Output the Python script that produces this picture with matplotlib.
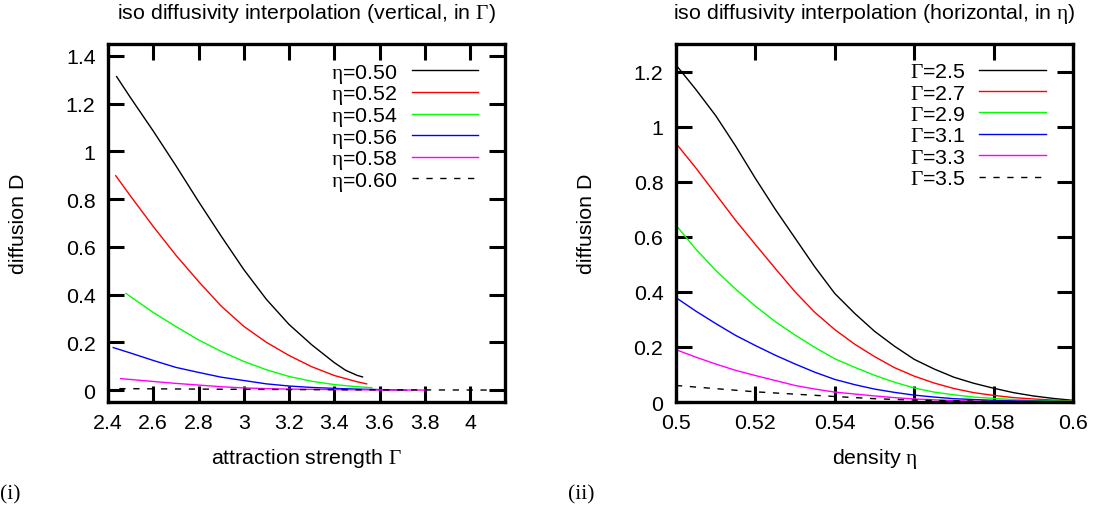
import numpy as np
import matplotlib
matplotlib.use("Agg")
import matplotlib.pyplot as plt

plt.rcParams['font.family'] = ['Liberation Sans', 'DejaVu Sans']
plt.rcParams['mathtext.fontset'] = 'custom'
plt.rcParams['mathtext.rm'] = 'Liberation Serif'
plt.rcParams['mathtext.it'] = 'Liberation Serif'
plt.rcParams['mathtext.bf'] = 'Liberation Serif:bold'

# (i) D vs attraction strength Gamma, one curve per density eta
eta_labels = ['0.50', '0.52', '0.54', '0.56', '0.58', '0.60']
g_050 = [2.438, 2.5, 2.6, 2.7, 2.8, 2.9, 3.0, 3.1, 3.2, 3.3, 3.4, 3.45, 3.5, 3.525]
d_050 = [1.313, 1.224, 1.085, 0.94, 0.79, 0.645, 0.505, 0.38, 0.275, 0.19, 0.115,
         0.083, 0.062, 0.055]
g_052 = [2.434, 2.5, 2.6, 2.7, 2.8, 2.9, 3.0, 3.1, 3.2, 3.3, 3.4, 3.5, 3.543]
d_052 = [0.898, 0.812, 0.685, 0.565, 0.455, 0.352, 0.267, 0.200, 0.145, 0.098, 0.061,
         0.035, 0.026]
g_054 = [2.479, 2.6, 2.7, 2.8, 2.9, 3.0, 3.1, 3.2, 3.3, 3.4, 3.5, 3.566]
d_054 = [0.405, 0.325, 0.266, 0.210, 0.162, 0.120, 0.085, 0.057, 0.037, 0.023, 0.014,
         0.010]
g_056 = [2.423, 2.5, 2.6, 2.7, 2.8, 2.9, 3.0, 3.1, 3.2, 3.3, 3.4, 3.5, 3.6, 3.72]
d_056 = [0.178, 0.155, 0.124, 0.095, 0.074, 0.054, 0.040, 0.026, 0.017, 0.011, 0.007,
         0.004, 0.002, 0.0]
g_058 = [2.456, 2.6, 2.7, 2.8, 2.9, 3.0, 3.1, 3.2, 3.4, 3.6, 3.81]
d_058 = [0.048, 0.036, 0.028, 0.021, 0.014, 0.009, 0.006, 0.004, 0.002, 0.0005, 0.0]
g_060 = [2.45, 3.00, 3.50, 4.155]
d_060 = [0.006, 0.003, 0.001, 0.0]

# (ii) D vs density eta, one curve per Gamma
gam_labels = ['2.5', '2.7', '2.9', '3.1', '3.3', '3.5']
eta = [0.50, 0.505, 0.51, 0.515, 0.52, 0.525, 0.53, 0.535, 0.54, 0.545, 0.55,
       0.555, 0.56, 0.565, 0.57, 0.575, 0.58, 0.585, 0.59, 0.595, 0.60]
d_25 = [1.224, 1.135, 1.04, 0.93, 0.812, 0.70, 0.595, 0.49, 0.394, 0.322, 0.257,
        0.203, 0.155, 0.12, 0.09, 0.068, 0.05, 0.034, 0.022, 0.013, 0.006]
d_27 = [0.939, 0.85, 0.755, 0.66, 0.572, 0.485, 0.40, 0.325, 0.263, 0.21, 0.165,
        0.125, 0.094, 0.069, 0.049, 0.034, 0.024, 0.016, 0.011, 0.007, 0.004]
d_29 = [0.642, 0.555, 0.478, 0.41, 0.348, 0.292, 0.243, 0.198, 0.157, 0.126, 0.097,
        0.072, 0.051, 0.036, 0.026, 0.018, 0.013, 0.009, 0.006, 0.004, 0.003]
d_31 = [0.379, 0.33, 0.285, 0.242, 0.205, 0.17, 0.138, 0.108, 0.082, 0.063, 0.047,
        0.035, 0.025, 0.018, 0.012, 0.009, 0.006, 0.004, 0.003, 0.002, 0.001]
d_33 = [0.19, 0.163, 0.138, 0.115, 0.096, 0.078, 0.060, 0.047, 0.036, 0.029, 0.022,
        0.016, 0.011, 0.008, 0.005, 0.003, 0.002, 0.0015, 0.001, 0.0005, 0.0]
e_35 = [0.50, 0.52, 0.54, 0.55, 0.56, 0.58, 0.60]
d_35 = [0.060, 0.037, 0.020, 0.012, 0.007, 0.002, 0.0]

colors = ['black', '#ff0000', '#00ff00', '#0000ff', '#ff00ff', 'black']
FS = 15.4
DASH = (0, (4.5, 5.5))

fig = plt.figure(figsize=(10.97, 5.10), dpi=100)
ax1 = fig.add_axes([0.0985, 0.2098, 0.3619, 0.702])
ax2 = fig.add_axes([0.6162, 0.2098, 0.3619, 0.702])


def style(ax):
    for s in ax.spines.values():
        s.set_linewidth(2.4)
    ax.tick_params(direction='in', length=11.5, width=2.2, top=True, right=True,
                   labelsize=FS, pad=8)
    ax.tick_params(axis='y', pad=9)


curves1 = [(g_050, d_050), (g_052, d_052), (g_054, d_054),
           (g_056, d_056), (g_058, d_058), (g_060, d_060)]
for (x, y), c, lab in zip(curves1, colors, eta_labels):
    ls = DASH if lab == '0.60' else '-'
    ax1.plot(x, y, color=c, lw=1.0, ls=ls, label=r'$\eta$=' + lab)

curves2 = [(eta, d_25), (eta, d_27), (eta, d_29),
           (eta, d_31), (eta, d_33), (e_35, d_35)]
for (x, y), c, lab in zip(curves2, colors, gam_labels):
    ls = DASH if lab == '3.5' else '-'
    ax2.plot(x, y, color=c, lw=1.0, ls=ls, label=r'$\Gamma$=' + lab)

ax1.set_xlim(2.4, 4.155)
ax1.set_ylim(-0.05, 1.45)
ax1.set_xticks(np.arange(2.4, 4.01, 0.2))
ax1.set_xticklabels(['2.4', '2.6', '2.8', '3', '3.2', '3.4', '3.6', '3.8', '4'])
ax1.set_yticks(np.arange(0, 1.41, 0.2))
ax1.set_yticklabels(['0', '0.2', '0.4', '0.6', '0.8', '1', '1.2', '1.4'])

ax2.set_xlim(0.5, 0.6)
ax2.set_ylim(0, 1.3)
ax2.set_xticks(np.arange(0.5, 0.601, 0.02))
ax2.set_xticklabels(['0.5', '0.52', '0.54', '0.56', '0.58', '0.6'])
ax2.set_yticks(np.arange(0, 1.21, 0.2))
ax2.set_yticklabels(['0', '0.2', '0.4', '0.6', '0.8', '1', '1.2'])

titles = [r'iso diffusivity interpolation (vertical, in $\Gamma$)',
          r'iso diffusivity interpolation (horizontal, in $\eta$)']
xlabels = [r'attraction strength $\Gamma$', r'density $\eta$']
spacing = [-0.065, 0.11]
anchor_y = [0.95, 0.949]
for ax, t, xl, sp, ay in zip((ax1, ax2), titles, xlabels, spacing, anchor_y):
    style(ax)
    ax.text(0.5, 1.087, t, transform=ax.transAxes, ha='center', va='center', fontsize=FS)
    ax.set_xlabel(xl, fontsize=FS)
    ax.xaxis.set_label_coords(0.5, -0.123)
    ax.set_ylabel('diffusion D', fontsize=FS)
    ax.yaxis.set_label_coords(-0.2015, 0.5)
    ax.legend(loc='upper right', bbox_to_anchor=(0.933, ay), frameon=False,
              markerfirst=False, fontsize=FS, handlelength=3.13, handletextpad=0.65,
              labelspacing=sp, borderpad=0, borderaxespad=0)

fig.text(0.0, 1 - 495 / 510, '(i)', family='Liberation Serif', fontsize=FS,
         ha='left', va='center')
fig.text(568 / 1097, 1 - 495 / 510, '(ii)', family='Liberation Serif', fontsize=FS,
         ha='left', va='center')

fig.savefig('out.png', dpi=100)
